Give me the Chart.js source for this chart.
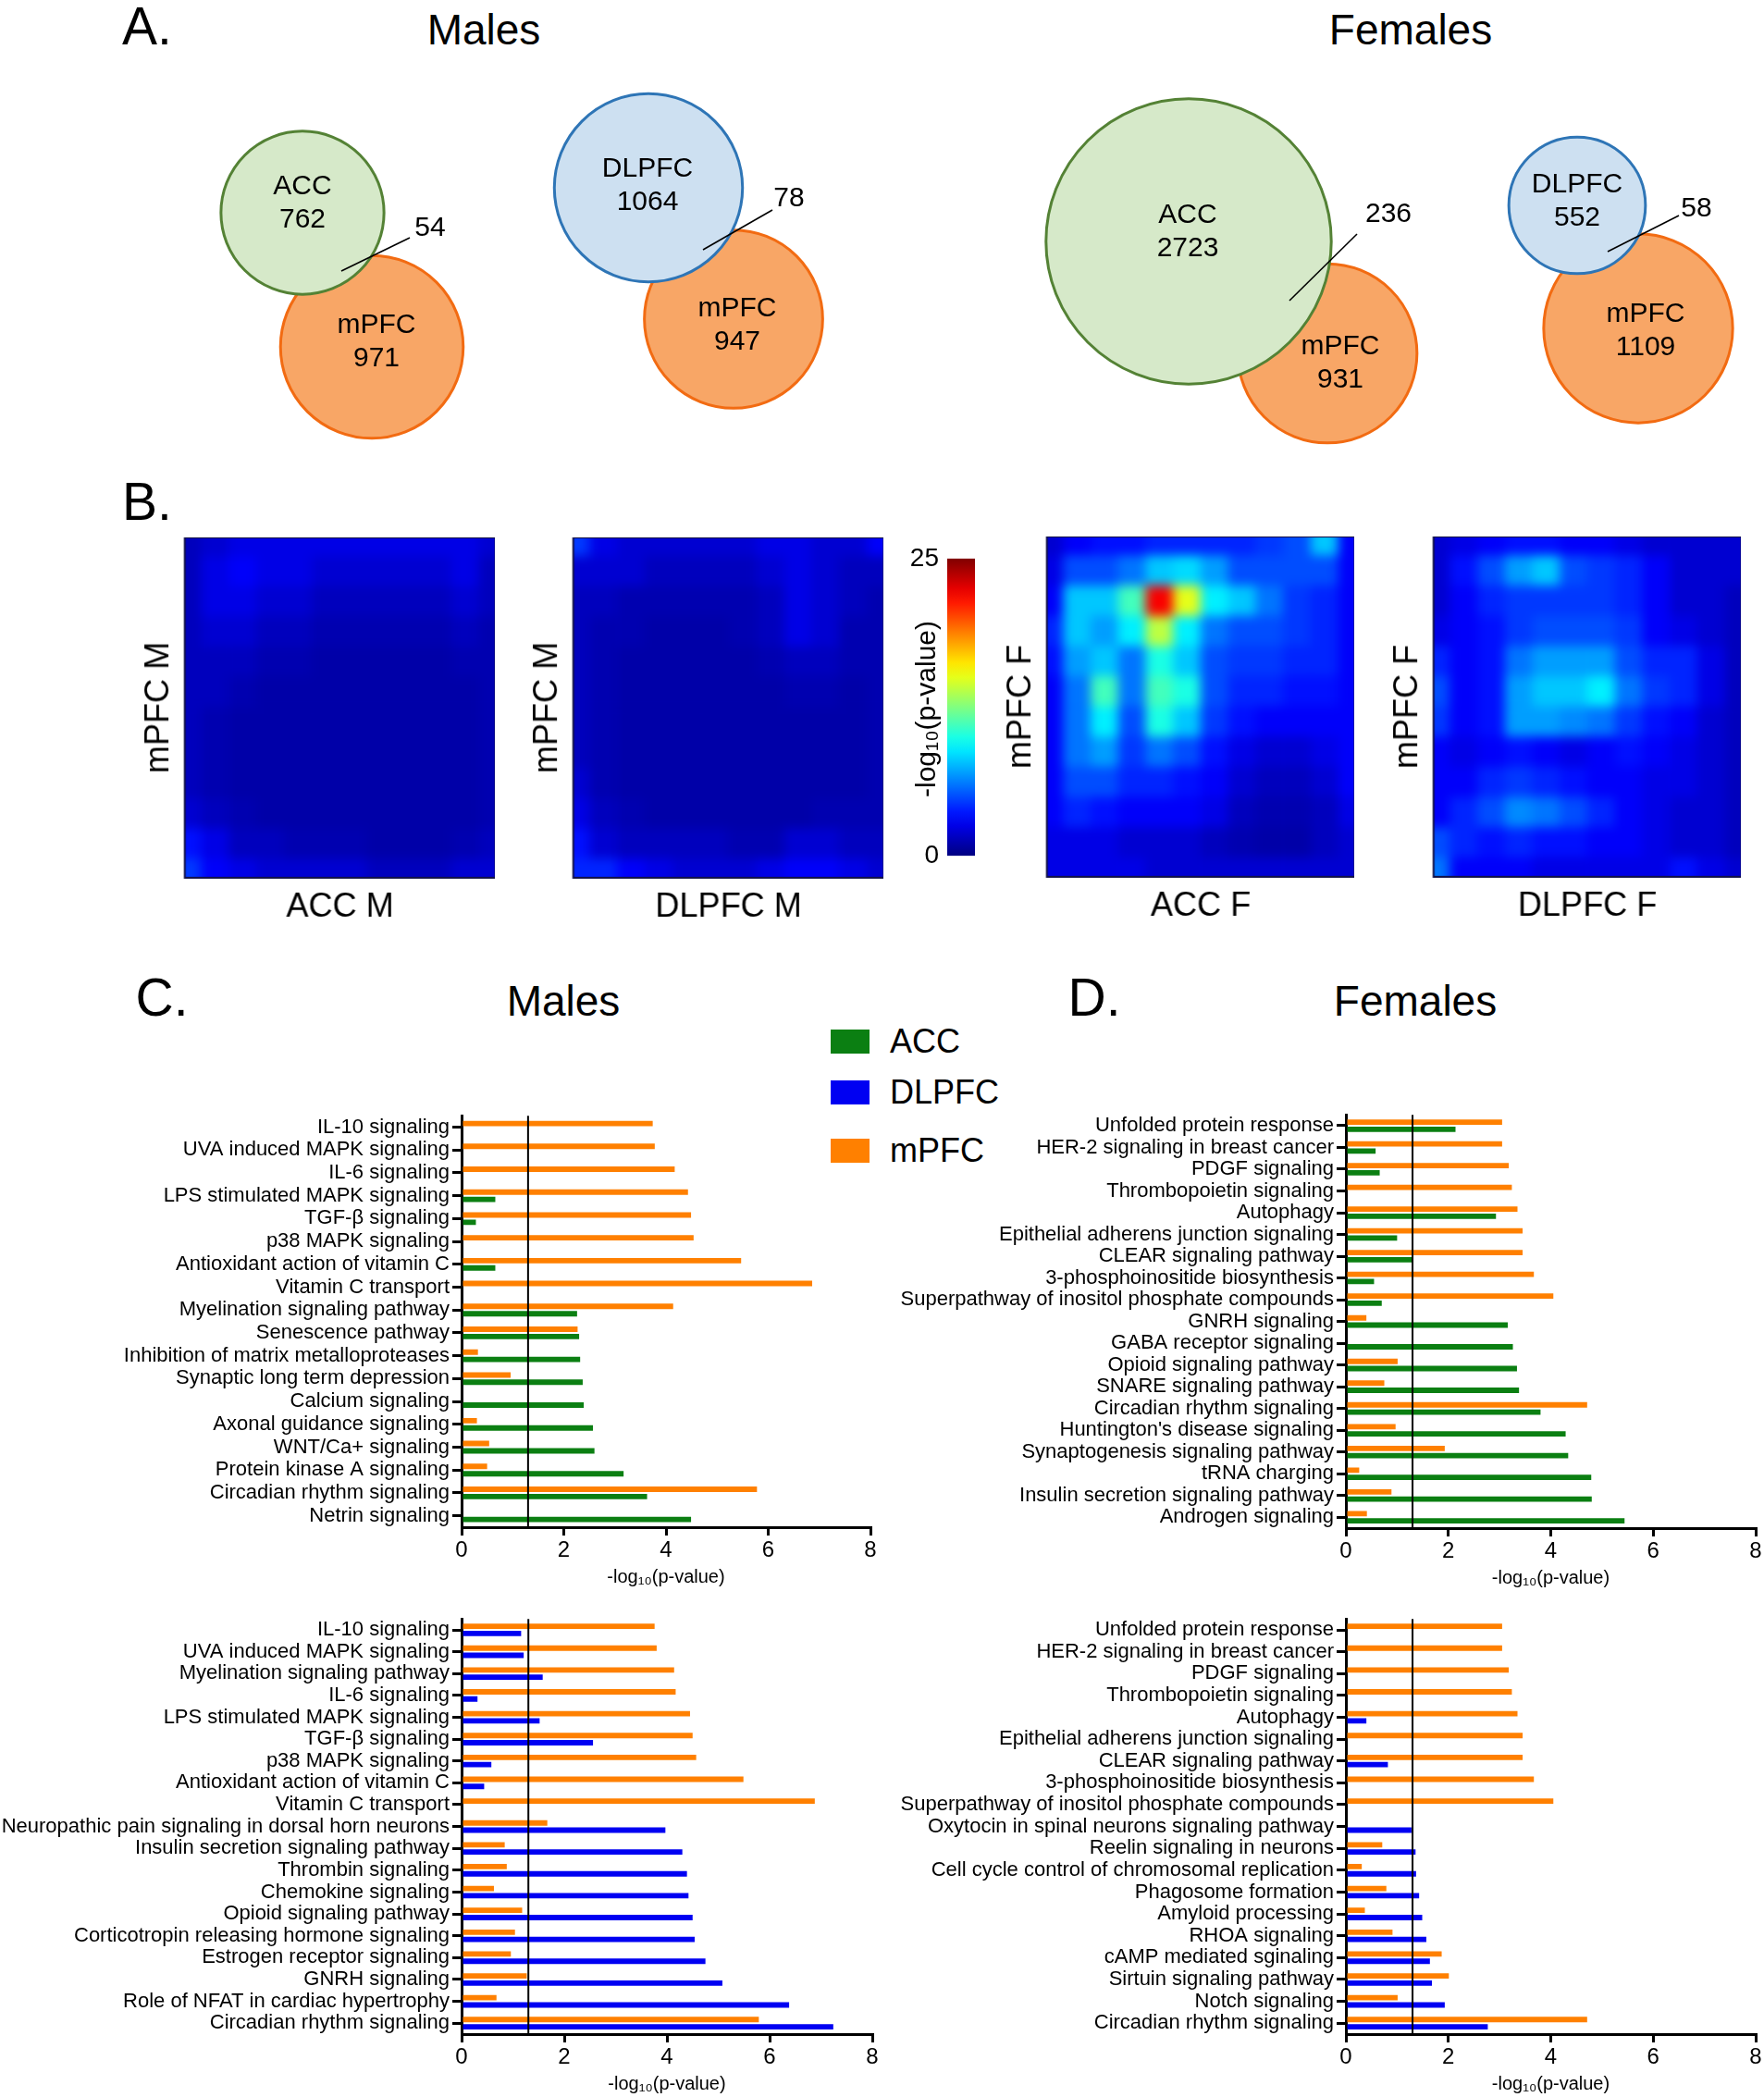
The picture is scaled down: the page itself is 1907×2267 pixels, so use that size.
<!DOCTYPE html>
<html lang="en">
<head>
<meta charset="UTF-8">
<title>Region overlap and pathway enrichment</title>
<script src="https://cdn.jsdelivr.net/npm/chart.js"></script>
<style>
    body {
        margin: 0;
        width: 1907px;
        height: 2267px;
        position: relative;
        overflow: hidden;
        background: #ffffff;
        font-family: "Liberation Sans", Arial, Helvetica, sans-serif;
        color: #000;
    }
    .box { position: absolute; }
    .txt {
        position: absolute;
        line-height: 1;
        white-space: nowrap;
        transform: translate(-50%, -50%);
    }
    .letter { font-size: 57px; }
    .head { font-size: 46px; }
    .key {
        position: absolute;
        left: 898px;
        font-size: 36px;
        line-height: 26px;
        display: flex;
        align-items: center;
        gap: 22px;
    }
    .key span { display: inline-block; width: 42px; height: 26px; }
</style>
</head>
<body>
<div class="txt letter" style="left:159px;top:28px">A.</div>
<div class="txt head" style="left:523px;top:32px">Males</div>
<div class="txt head" style="left:1525px;top:32px">Females</div>
<div class="txt letter" style="left:159px;top:542px">B.</div>
<div class="txt letter" style="left:175px;top:1078px">C.</div>
<div class="txt head" style="left:609px;top:1082px">Males</div>
<div class="txt letter" style="left:1183px;top:1078px">D.</div>
<div class="txt head" style="left:1530px;top:1082px">Females</div>
<div id="legend"></div>

<script>
// ---- A: gene counts (unique, unique, shared) ----
const vennSets = [['ACC', 'mPFC'], ['DLPFC', 'mPFC'], ['ACC', 'mPFC'], ['DLPFC', 'mPFC']];
const vennOnly = [[762, 971], [1064, 947], [2723, 931], [552, 1109]];
const vennShared = [54, 78, 236, 58];

// ---- B: -log10(p) RRHO maps, 12 x 12, top row first ----
const heatAccM = [
    [1.5, 2, 2.5, 2.5, 2.5, 2.5, 2.5, 2.5, 2.5, 2.5, 2.5, 2],
    [1.5, 2.5, 3, 2.5, 2.5, 2, 2, 2, 2, 2, 2.5, 1.5],
    [1.5, 2.5, 2.5, 2, 2, 1.5, 1.5, 1.5, 1.5, 1.5, 2, 1.5],
    [1.5, 2, 2, 1.5, 1.5, 1.2, 1.2, 1.2, 1.2, 1.2, 1.5, 1.2],
    [1.5, 1.5, 1.5, 1.2, 1.2, 1, 1, 1, 1, 1, 1.2, 1.2],
    [1.5, 1.5, 1.2, 1, 1, 1, 1, 1, 1, 1, 1, 1.2],
    [1.5, 1.2, 1, 1, 1, 1, 1, 1, 1, 1, 1, 1.2],
    [1.5, 1.2, 1, 1, 1, 1, 1, 1, 1, 1, 1, 1.2],
    [1.5, 1.2, 1, 1, 1, 1, 1, 1, 1, 1, 1, 1.2],
    [2, 1.5, 1.2, 1, 1, 1, 1, 1, 1, 1, 1, 1.2],
    [3.5, 2.5, 1.5, 1.5, 1.2, 1.2, 1.2, 1, 1, 1, 1.2, 1.5],
    [4.5, 3, 2.5, 2, 2, 2, 2, 1.5, 1.5, 1.5, 2, 2]
];
const heatDlpfcM = [
    [4.5, 2.5, 2, 2, 2, 2, 2, 2.5, 2.5, 2, 2, 3],
    [2, 2, 2, 1.5, 1.5, 1.5, 1.5, 2, 2.5, 2, 1.5, 1.5],
    [1.5, 1.5, 1.2, 1.2, 1.2, 1.2, 1.2, 1.5, 2.5, 2, 1.5, 1.2],
    [1.5, 1.2, 1.2, 1, 1, 1, 1.2, 1.5, 2.5, 2, 1.2, 1.2],
    [1.5, 1.2, 1, 1, 1, 1, 1, 1.2, 1.5, 1.5, 1.2, 1.2],
    [1.5, 1.2, 1, 1, 1, 1, 1, 1, 1.2, 1.2, 1, 1.2],
    [1.5, 1.2, 1, 1, 1, 1, 1, 1, 1, 1, 1, 1.2],
    [1.5, 1.2, 1, 1, 1, 1, 1, 1, 1, 1, 1, 1.2],
    [2, 1.2, 1, 1, 1, 1, 1, 1, 1, 1, 1, 1.2],
    [2.5, 1.5, 1.2, 1, 1, 1, 1, 1, 1, 1.2, 1.2, 1.2],
    [3.5, 2, 1.5, 1.5, 1.5, 1.5, 1.2, 1.2, 2, 2, 1.5, 1.5],
    [4, 4, 3, 2.5, 2, 2, 2, 2.5, 3, 3, 2.5, 2]
];
const heatAccF = [
    [2, 3, 3.5, 3.5, 4, 4, 4, 4, 4.5, 5, 8, 3],
    [2.5, 5, 5, 6, 8, 8.5, 7, 5, 5, 5, 5, 3],
    [3, 8, 8, 11, 22, 15, 9, 8, 6, 4.5, 4, 3],
    [4, 8, 7, 9, 14, 9, 6, 5, 5, 4.5, 4, 3],
    [3.5, 7, 8, 6, 10, 8, 5, 4.5, 4.5, 4, 4, 3],
    [3, 6, 11, 6, 11, 10, 5, 4, 4, 3.5, 3.5, 3],
    [3, 6, 9, 5, 10, 8, 4.5, 3.5, 3, 3, 3, 3],
    [3, 6, 7, 4.5, 6, 5, 3.5, 2.5, 2, 2, 2.5, 3],
    [3, 5, 5, 4, 4, 3.5, 3, 2, 1.5, 1.5, 2, 3],
    [3, 4, 3.5, 3, 3, 3, 2.5, 1.5, 1.2, 1.2, 1.5, 2.5],
    [2.5, 2.5, 2.5, 2, 2, 2, 1.5, 1.2, 1, 1, 1.5, 2],
    [2.5, 2.5, 2.5, 2.5, 2, 2, 2, 2, 2, 2, 2, 2]
];
const heatDlpfcF = [
    [2, 2.5, 3, 3.5, 3.5, 3, 3, 2.5, 2, 2, 2, 2],
    [2, 3.5, 5, 7, 8, 5, 4.5, 4, 3, 2, 2, 2],
    [2, 3, 4, 4.5, 4.5, 4.5, 4.5, 4, 3, 2, 2, 1.5],
    [2.5, 3, 3.5, 4.5, 5, 5, 5, 4.5, 3, 2.5, 2, 1.5],
    [4, 3, 3.5, 6, 7, 7, 7, 5, 4, 4, 2.5, 1.5],
    [5, 3, 3.5, 7, 8, 8, 9, 6, 4.5, 4, 2.5, 1.5],
    [4.5, 3, 3.5, 7, 7, 6.5, 6, 4.5, 3.5, 3, 2, 1.5],
    [3, 2.5, 3, 3.5, 3, 2.5, 3, 3.5, 3, 2.5, 2, 1.5],
    [3, 3, 4, 4.5, 4, 3.5, 3, 3, 2.5, 2.5, 2, 1.5],
    [3, 4, 5, 6.5, 6, 5, 4, 3, 2.5, 2, 2, 1.5],
    [5, 4, 3.5, 4, 3.5, 3.5, 3, 3, 2.5, 2, 2, 1.5],
    [6, 3, 3, 3, 2.5, 2.5, 2.5, 2.5, 2.5, 3.5, 2.5, 2]
];
const cbarTicks = [0, 25];

// ---- C / D: pathway enrichment, -log10(p) ----
const xTicksMax = 8;
const pCutoff = -Math.log10(0.05);

const maleAccCats = ['IL-10 signaling', 'UVA induced MAPK signaling', 'IL-6 signaling', 'LPS stimulated MAPK signaling',
    'TGF-β signaling', 'p38 MAPK signaling', 'Antioxidant action of vitamin C', 'Vitamin C transport',
    'Myelination signaling pathway', 'Senescence pathway', 'Inhibition of matrix metalloproteases',
    'Synaptic long term depression', 'Calcium signaling', 'Axonal guidance signaling', 'WNT/Ca+ signaling',
    'Protein kinase A signaling', 'Circadian rhythm signaling', 'Netrin signaling'];
const maleAccMpfc = [3.74, 3.78, 4.17, 4.43, 4.49, 4.54, 5.47, 6.86, 4.14, 2.27, 0.32, 0.96, null, 0.30, 0.54, 0.50, 5.78, null];
const maleAccAcc = [null, null, null, 0.66, 0.28, null, 0.66, null, 2.26, 2.30, 2.32, 2.37, 2.39, 2.57, 2.60, 3.17, 3.63, 4.49];

const maleDlpfcCats = ['IL-10 signaling', 'UVA induced MAPK signaling', 'Myelination signaling pathway', 'IL-6 signaling',
    'LPS stimulated MAPK signaling', 'TGF-β signaling', 'p38 MAPK signaling', 'Antioxidant action of vitamin C',
    'Vitamin C transport', 'Neuropathic pain signaling in dorsal horn neurons', 'Insulin secretion signaling pathway',
    'Thrombin signaling', 'Chemokine signaling', 'Opioid signaling pathway', 'Corticotropin releasing hormone signaling',
    'Estrogen receptor signaling', 'GNRH signaling', 'Role of NFAT in cardiac hypertrophy', 'Circadian rhythm signaling'];
const maleDlpfcMpfc = [3.76, 3.80, 4.14, 4.17, 4.45, 4.50, 4.57, 5.49, 6.88, 1.67, 0.84, 0.88, 0.63, 1.18, 1.04, 0.96, 1.27, 0.68, 5.79];
const maleDlpfcDlpfc = [1.16, 1.21, 1.58, 0.31, 1.52, 2.56, 0.58, 0.44, null, 3.97, 4.30, 4.39, 4.42, 4.50, 4.54, 4.75, 5.08, 6.38, 7.24];

const femAccCats = ['Unfolded protein response', 'HER-2 signaling in breast cancer', 'PDGF signaling', 'Thrombopoietin signaling',
    'Autophagy', 'Epithelial adherens junction signaling', 'CLEAR signaling pathway', '3-phosphoinositide biosynthesis',
    'Superpathway of inositol phosphate compounds', 'GNRH signaling', 'GABA receptor signaling', 'Opioid signaling pathway',
    'SNARE signaling pathway', 'Circadian rhythm signaling', "Huntington's disease signaling", 'Synaptogenesis signaling pathway',
    'tRNA charging', 'Insulin secretion signaling pathway', 'Androgen signaling'];
const femAccMpfc = [3.05, 3.05, 3.18, 3.24, 3.35, 3.45, 3.45, 3.67, 4.05, 0.40, null, 1.01, 0.75, 4.71, 0.97, 1.93, 0.26, 0.89, 0.41];
const femAccAcc = [2.14, 0.58, 0.66, null, 2.93, 1.00, 1.31, 0.55, 0.70, 3.16, 3.26, 3.34, 3.38, 3.80, 4.29, 4.34, 4.79, 4.80, 5.44];

const femDlpfcCats = ['Unfolded protein response', 'HER-2 signaling in breast cancer', 'PDGF signaling', 'Thrombopoietin signaling',
    'Autophagy', 'Epithelial adherens junction signaling', 'CLEAR signaling pathway', '3-phosphoinositide biosynthesis',
    'Superpathway of inositol phosphate compounds', 'Oxytocin in spinal neurons signaling pathway', 'Reelin signaling in neurons',
    'Cell cycle control of chromosomal replication', 'Phagosome formation', 'Amyloid processing', 'RHOA signaling',
    'cAMP mediated sginaling', 'Sirtuin signaling pathway', 'Notch signaling', 'Circadian rhythm signaling'];
const femDlpfcMpfc = [3.05, 3.05, 3.18, 3.24, 3.35, 3.45, 3.45, 3.67, 4.05, null, 0.71, 0.31, 0.79, 0.37, 0.91, 1.87, 2.01, 1.01, 4.71];
const femDlpfcDlpfc = [null, null, null, null, 0.40, null, 0.82, null, null, 1.28, 1.36, 1.37, 1.43, 1.49, 1.57, 1.64, 1.68, 1.93, 2.77];

// ---- styles ----
const barColor = { ACC: '#0b7f12', DLPFC: '#0000f2', mPFC: '#ff8000' };
const vennFill = { ACC: '#d6e9c9', DLPFC: '#cde0f1', mPFC: 'rgba(245,124,30,0.68)' };
const vennLine = { ACC: '#548235', DLPFC: '#2e75b6', mPFC: '#f26b12' };
const FONT = '"Liberation Sans", Arial, Helvetica, sans-serif';

Chart.defaults.font.family = FONT;
Chart.defaults.color = '#000';
Chart.defaults.animation = false;
Chart.defaults.responsive = true;
Chart.defaults.maintainAspectRatio = false;
Chart.defaults.plugins.legend.display = false;
Chart.defaults.plugins.tooltip.enabled = false;

function place(left, top, width, height) {
    const d = document.createElement('div');
    d.className = 'box';
    d.style.left = left + 'px';
    d.style.top = top + 'px';
    d.style.width = width + 'px';
    d.style.height = height + 'px';
    const c = document.createElement('canvas');
    d.appendChild(c);
    document.body.appendChild(d);
    return c;
}

function jet(v) {
    const t = Math.max(0, Math.min(1, v / 25));
    const cl = x => Math.round(255 * Math.max(0, Math.min(1, x)));
    const r = cl(Math.min(4 * t - 1.5, -4 * t + 4.5));
    const g = cl(Math.min(4 * t - 0.5, -4 * t + 3.5));
    const b = cl(Math.min(4 * t + 0.5, -4 * t + 2.5));
    return `rgb(${r},${g},${b})`;
}

// ---------- A: Venn diagrams (bubbles in page pixel space) ----------
// layout only: centres, label anchors, leader lines, radius scale per diagram
const vennLayout = [
    { c1: [327, 230], c2: [402, 375], k: 3.085, lab1: [327, 220], lab2: [407, 370], share: [465, 247], lead: [[443, 257], [369, 293]] },
    { c1: [701, 203], c2: [793, 345], k: 3.01, lab1: [700, 201], lab2: [797, 352], share: [853, 215], lead: [[835, 227], [760, 270]] },
    { c1: [1285, 261], c2: [1435, 382], k: 2.835, lab1: [1284, 251], lab2: [1449, 393], share: [1501, 232], lead: [[1467, 253], [1394, 325]] },
    { c1: [1705, 222], c2: [1771, 355], k: 2.99, lab1: [1705, 218], lab2: [1779, 358], share: [1834, 226], lead: [[1815, 233], [1738, 272]] }
];

const vennDatasets = {};
vennSets.forEach((pair, i) => {
    const L = vennLayout[i];
    pair.forEach((name, j) => {
        const c = j === 0 ? L.c1 : L.c2;
        const total = vennOnly[i][j] + vennShared[i];
        if (!vennDatasets[name]) vennDatasets[name] = [];
        vennDatasets[name].push({ x: c[0], y: c[1], r: L.k * Math.sqrt(total) });
    });
});

const vennText = {
    id: 'vennText',
    afterDatasetsDraw(chart) {
        const { ctx, scales: { x, y } } = chart;
        const px = p => [x.getPixelForValue(p[0]), y.getPixelForValue(p[1])];
        ctx.save();
        ctx.fillStyle = '#000';
        ctx.strokeStyle = '#000';
        ctx.lineWidth = 1.6;
        ctx.font = '30px ' + FONT;
        ctx.textAlign = 'center';
        ctx.textBaseline = 'middle';
        vennLayout.forEach((L, i) => {
            [L.lab1, L.lab2].forEach((p, j) => {
                const [cx, cy] = px(p);
                ctx.fillText(vennSets[i][j], cx, cy - 18);
                ctx.fillText(String(vennOnly[i][j]), cx, cy + 18);
            });
            const [sx, sy] = px(L.share);
            ctx.fillText(String(vennShared[i]), sx, sy);
            const [ax, ay] = px(L.lead[0]);
            const [bx, by] = px(L.lead[1]);
            ctx.beginPath();
            ctx.moveTo(ax, ay);
            ctx.lineTo(bx, by);
            ctx.stroke();
        });
        ctx.restore();
    }
};

new Chart(place(0, 0, 1907, 505), {
    type: 'bubble',
    data: {
        datasets: ['ACC', 'DLPFC', 'mPFC'].map(name => ({
            label: name,
            data: vennDatasets[name],
            backgroundColor: vennFill[name],
            borderColor: vennLine[name],
            borderWidth: 3,
            clip: false
        }))
    },
    options: {
        layout: { padding: 0, autoPadding: false },
        scales: {
            x: { type: 'linear', min: 0, max: 1907, display: false },
            y: { type: 'linear', min: 0, max: 505, reverse: true, display: false }
        }
    },
    plugins: [vennText]
});

// ---------- B: heatmaps as stacked unit bars ----------
const heatFrame = {
    id: 'heatFrame',
    afterDatasetsDraw(chart) {
        const { ctx, chartArea: a, canvas } = chart;
        const w = a.right - a.left, h = a.bottom - a.top;
        const dpr = chart.currentDevicePixelRatio || 1;
        // soften the cell grid like the smoothed RRHO map
        const off = document.createElement('canvas');
        off.width = Math.round(w * dpr);
        off.height = Math.round(h * dpr);
        off.getContext('2d').drawImage(canvas, a.left * dpr, a.top * dpr, w * dpr, h * dpr, 0, 0, off.width, off.height);
        ctx.save();
        ctx.beginPath();
        ctx.rect(a.left, a.top, w, h);
        ctx.clip();
        ctx.filter = 'blur(6px)';
        ctx.drawImage(off, a.left - 12, a.top - 12, w + 24, h + 24);
        ctx.restore();
        ctx.save();
        ctx.strokeStyle = '#101048';
        ctx.lineWidth = 2;
        ctx.strokeRect(a.left, a.top, w, h);
        ctx.restore();
    }
};

function heatmap(area, grid, xTitle, yTitle) {
    const F = 36, lh = F * 1.2;
    const gapX = 32, gapY = 28;
    const padX = gapX - lh / 2, padY = gapY - lh / 2;
    const left = area[0] - lh - padY;
    const canvas = place(left, area[1], area[2] - left, area[3] - area[1] + lh + padX);
    const nRows = grid.length;
    const datasets = [];
    for (let r = nRows - 1; r >= 0; r--) {
        datasets.push({
            data: grid[r].map(() => 1),
            backgroundColor: grid[r].map(jet),
            borderWidth: 0,
            barPercentage: 1,
            categoryPercentage: 1
        });
    }
    new Chart(canvas, {
        type: 'bar',
        data: { labels: grid[0].map((_, i) => i), datasets },
        options: {
            layout: { padding: 0 },
            scales: {
                x: {
                    stacked: true,
                    ticks: { display: false },
                    grid: { display: false, drawTicks: false },
                    border: { display: false },
                    title: { display: true, text: xTitle, font: { size: F }, padding: { top: padX, bottom: 0 } }
                },
                y: {
                    stacked: true, min: 0, max: nRows,
                    ticks: { display: false },
                    grid: { display: false, drawTicks: false },
                    border: { display: false },
                    title: { display: true, text: yTitle, font: { size: F }, padding: { top: 0, bottom: padY } }
                }
            }
        },
        plugins: [heatFrame]
    });
}

heatmap([200, 581, 535, 948], heatAccM, 'ACC M', 'mPFC M');
heatmap([620, 581, 955, 948], heatDlpfcM, 'DLPFC M', 'mPFC M');
heatmap([1132, 580, 1464, 947], heatAccF, 'ACC F', 'mPFC F');
heatmap([1550, 580, 1882, 947], heatDlpfcF, 'DLPFC F', 'mPFC F');

// colour bar
const cbarTitle = {
    id: 'cbarTitle',
    afterDraw(chart) {
        const { ctx, chartArea: a } = chart;
        ctx.save();
        ctx.translate(a.left - 21, (a.top + a.bottom) / 2 + 2);
        ctx.rotate(-Math.PI / 2);
        ctx.fillStyle = '#000';
        ctx.font = '30px ' + FONT;
        ctx.textAlign = 'center';
        ctx.textBaseline = 'middle';
        ctx.fillText('-log\u2081\u2080(p-value)', 0, 0);
        ctx.restore();
    }
};

new Chart(place(964, 578, 90, 373), {
    type: 'bar',
    data: {
        labels: [''],
        datasets: [{
            data: [Math.max(...cbarTicks)],
            borderWidth: 0,
            barPercentage: 1,
            categoryPercentage: 1,
            backgroundColor(ctx) {
                const a = ctx.chart.chartArea;
                if (!a) return '#000080';
                const g = ctx.chart.ctx.createLinearGradient(0, a.bottom, 0, a.top);
                for (let i = 0; i <= 20; i++) g.addColorStop(i / 20, jet(25 * i / 20));
                return g;
            }
        }]
    },
    options: {
        layout: { padding: { top: 20, bottom: 20, left: 0, right: 0 } },
        scales: {
            x: { display: false },
            y: {
                min: 0, max: Math.max(...cbarTicks),
                afterBuildTicks(s) { s.ticks = cbarTicks.map(v => ({ value: v })); },
                afterFit(s) { s.width = 60; },
                ticks: { font: { size: 28 }, padding: 9 },
                grid: { display: false, drawTicks: false },
                border: { display: false }
            }
        }
    },
    plugins: [cbarTitle]
});

// ---------- C / D: pathway bar charts ----------
const cutoffLine = {
    id: 'cutoffLine',
    afterDatasetsDraw(chart) {
        const { ctx, chartArea: a, scales: { x } } = chart;
        const px = x.getPixelForValue(pCutoff);
        ctx.save();
        ctx.strokeStyle = '#000';
        ctx.lineWidth = 2;
        ctx.beginPath();
        ctx.moveTo(px, a.top);
        ctx.lineTo(px, a.bottom);
        ctx.stroke();
        ctx.restore();
    }
};

function pathwayChart(rect, yWidth, padRight, cats, series) {
    const canvas = place(rect[0], rect[1], rect[2], rect[3]);
    new Chart(canvas, {
        type: 'bar',
        data: {
            labels: cats,
            datasets: series.map(s => ({
                label: s.label,
                data: s.data,
                backgroundColor: barColor[s.label],
                borderWidth: 0,
                barPercentage: 0.75,
                categoryPercentage: cats.length > 18 ? 0.66 : 0.64
            }))
        },
        options: {
            indexAxis: 'y',
            layout: { padding: { top: 12, right: padRight, bottom: 0, left: 0 } },
            scales: {
                x: {
                    min: 0, max: xTicksMax,
                    ticks: { stepSize: 2, font: { size: 24 }, padding: 2 },
                    grid: { drawOnChartArea: false, tickLength: 9, color: '#000', lineWidth: 3 },
                    border: { color: '#000', width: 3 },
                    title: { display: true, text: '-log\u2081\u2080(p-value)', font: { size: 20 }, padding: { top: 0, bottom: 0 } },
                    afterFit(s) { s.height = 66; }
                },
                y: {
                    ticks: { font: { size: 22 }, padding: 3, autoSkip: false },
                    grid: { drawOnChartArea: false, offset: false, tickLength: 10, color: '#000', lineWidth: 3 },
                    border: { color: '#000', width: 3 },
                    afterFit(s) { s.width = yWidth; }
                }
            }
        },
        plugins: [cutoffLine]
    });
}

pathwayChart([0, 1190, 953, 527], 499, 12, maleAccCats,
    [{ label: 'mPFC', data: maleAccMpfc }, { label: 'ACC', data: maleAccAcc }]);
pathwayChart([0, 1734, 955, 531], 499, 12, maleDlpfcCats,
    [{ label: 'mPFC', data: maleDlpfcMpfc }, { label: 'DLPFC', data: maleDlpfcDlpfc }]);
pathwayChart([955, 1189, 952, 529], 500, 9, femAccCats,
    [{ label: 'mPFC', data: femAccMpfc }, { label: 'ACC', data: femAccAcc }]);
pathwayChart([955, 1734, 952, 531], 500, 9, femDlpfcCats,
    [{ label: 'mPFC', data: femDlpfcMpfc }, { label: 'DLPFC', data: femDlpfcDlpfc }]);

// shared legend
const legendTops = [1113, 1168, 1231];
['ACC', 'DLPFC', 'mPFC'].forEach((name, i) => {
    const row = document.createElement('div');
    row.className = 'key';
    row.style.top = legendTops[i] + 'px';
    row.innerHTML = `<span style="background:${barColor[name]}"></span>${name}`;
    document.getElementById('legend').appendChild(row);
});
</script>
</body>
</html>
